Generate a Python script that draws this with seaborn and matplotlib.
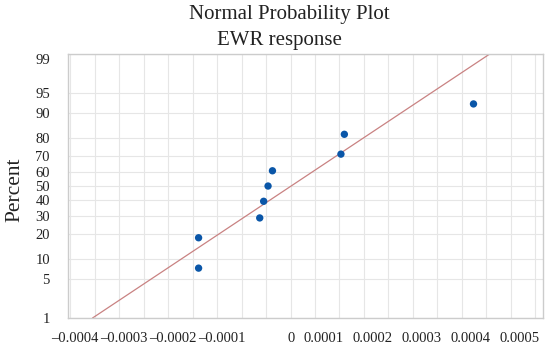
"""Normal probability plot of the EWR response (probit y scale)."""
from statistics import NormalDist

import matplotlib
matplotlib.use("Agg")
import matplotlib.pyplot as plt
import matplotlib.transforms as mtransforms
import numpy as np
import pandas as pd
import seaborn as sns
from matplotlib.ticker import MultipleLocator

# effect values, with their plotting percents
effects = [-0.000188, -0.000188, -0.000063, -0.000055, -0.000046,
           -0.000037, 0.000103, 0.000110, 0.000374]
percents = [7.4, 18.1, 28.7, 39.4, 50.0, 60.6, 71.3, 81.9, 92.6]

y_ticks = [1, 5, 10, 20, 30, 40, 50, 60, 70, 80, 90, 95, 99]
x_ticks = [-0.0004, -0.0003, -0.0002, -0.0001, 0, 0.0001, 0.0002, 0.0003, 0.0004, 0.0005]
x_labels = ["\u20130.0004", "\u20130.0003", "\u20130.0002", "\u20130.0001", "0",
            "0.0001", "0.0002", "0.0003", "0.0004", "0.0005"]

nd = NormalDist()


def probit(p):
    return nd.inv_cdf(p / 100.0)


sns.set_theme(style="white")
plt.rcParams["font.family"] = ["Liberation Serif", "DejaVu Serif"]

df = pd.DataFrame({"effect": effects, "z": [probit(p) for p in percents]})

# fitted normal line from the sample mean / std
mu = float(np.mean(effects))
sd = float(np.std(effects, ddof=1))
line_z = [probit(1), probit(99)]
line_df = pd.DataFrame({"effect": [mu + z * sd for z in line_z], "z": line_z})

fig = plt.figure(figsize=(5.5, 3.53), dpi=100)
ax = fig.add_axes([0.1236, 0.099, 0.8636, 0.748])

ax.xaxis.set_minor_locator(MultipleLocator(0.00005))
ax.set_yticks([probit(p) for p in y_ticks])
ax.set_yticklabels([str(p) for p in y_ticks])
ax.set_xticks(x_ticks)
ax.set_xticklabels(x_labels)
ax.grid(True, which="both", axis="x", color="#e6e6e6", lw=0.8)
ax.grid(True, which="major", axis="y", color="#e6e6e6", lw=0.8)
ax.set_axisbelow(True)

sns.lineplot(data=line_df, x="effect", y="z", ax=ax, color="#c98282", lw=0.9)
sns.scatterplot(data=df, x="effect", y="z", ax=ax, color="#0a56a8", s=28,
                edgecolor="none", zorder=3)

ax.set_xlim(-0.000455, 0.000516)
ax.set_ylim(probit(1), probit(99))

for sp in ax.spines.values():
    sp.set_color("#cccccc")
    sp.set_linewidth(1.0)
ax.tick_params(axis="both", which="major", direction="out", length=4,
               color="#bbbbbb", labelsize=10.5, colors="#222222")
ax.tick_params(axis="x", which="minor", length=0)
ax.tick_params(axis="x", pad=6)
ax.tick_params(axis="y", pad=9)

# x labels sit right-aligned just past their tick
shift = mtransforms.ScaledTranslation(4 / 100, 0, fig.dpi_scale_trans)
for lab in ax.get_xticklabels():
    lab.set_horizontalalignment("right")
    lab.set_transform(lab.get_transform() + shift)
# top label nudged down like the original
down = mtransforms.ScaledTranslation(0, -5 / 100, fig.dpi_scale_trans)
top_lab = ax.get_yticklabels()[-1]
top_lab.set_transform(top_lab.get_transform() + down)

ax.set_xlabel("")
ax.set_ylabel("")
fig.text(15 / 550, 1 - 190 / 353, "Percent", rotation=90, ha="center", va="center",
         fontsize=15.5, color="#222222")

fig.text(289 / 550, 1 - 14 / 353, "Normal Probability Plot", ha="center", va="center",
         fontsize=15, color="#222222")
fig.text(279 / 550, 1 - 40 / 353, "EWR response", ha="center", va="center",
         fontsize=15, color="#222222")

fig.savefig("out.png", dpi=100)
plt.close(fig)
